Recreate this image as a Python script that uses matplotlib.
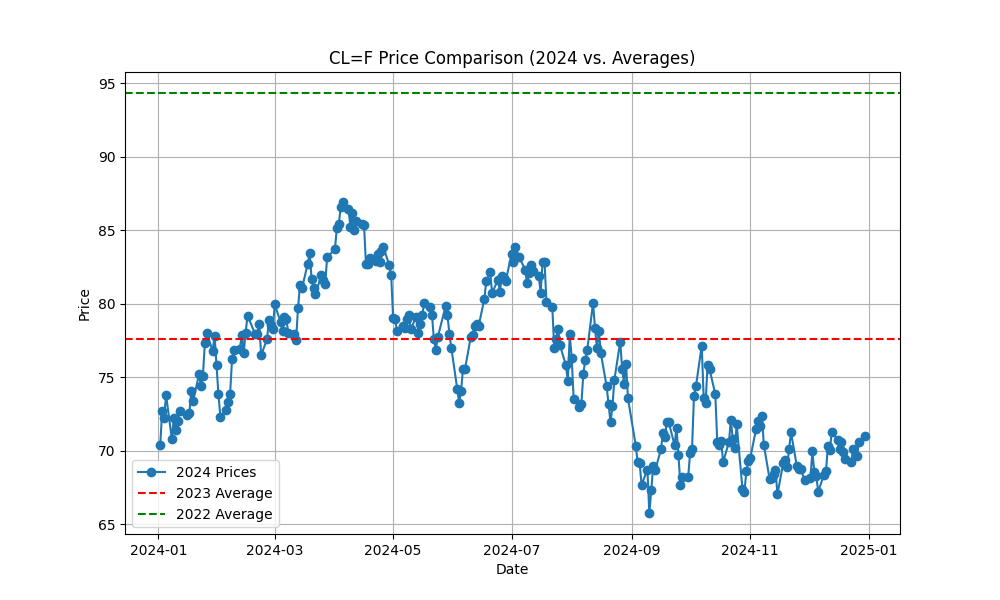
import numpy as np
import pandas as pd
import matplotlib
matplotlib.use('Agg')
import matplotlib.pyplot as plt

# Trading days per month (2024)
days = {
    1: [2, 3, 4, 5, 8, 9, 10, 11, 12, 16, 17, 18, 19, 22, 23, 24, 25, 26, 29, 30, 31],
    2: [1, 2, 5, 6, 7, 8, 9, 12, 13, 14, 15, 16, 20, 21, 22, 23, 26, 27, 28, 29],
    3: [1, 4, 5, 6, 7, 8, 11, 12, 13, 14, 15, 18, 19, 20, 21, 22, 25, 26, 27, 28],
    4: [1, 2, 3, 4, 5, 8, 9, 10, 11, 12, 15, 16, 17, 18, 19, 22, 23, 24, 25, 26, 29, 30],
    5: [1, 2, 3, 6, 7, 8, 9, 10, 13, 14, 15, 16, 17, 20, 21, 22, 23, 24, 28, 29, 30, 31],
    6: [3, 4, 5, 6, 7, 10, 11, 12, 13, 14, 17, 18, 20, 21, 24, 25, 26, 27, 28],
    7: [1, 2, 3, 5, 8, 9, 10, 11, 12, 15, 16, 17, 18, 19, 22, 23, 24, 25, 26, 29, 30, 31],
    8: [1, 2, 5, 6, 7, 8, 9, 12, 13, 14, 15, 16, 19, 20, 21, 22, 23, 26, 27, 28, 29, 30],
    9: [3, 4, 5, 6, 9, 10, 11, 12, 13, 16, 17, 18, 19, 20, 23, 24, 25, 26, 27, 30],
    10: [1, 2, 3, 4, 7, 8, 9, 10, 11, 14, 15, 16, 17, 18, 21, 22, 23, 24, 25, 28, 29, 30, 31],
    11: [1, 4, 5, 6, 7, 8, 11, 12, 13, 14, 15, 18, 19, 20, 21, 22, 25, 26, 27, 29],
    12: [2, 3, 4, 5, 6, 9, 10, 11, 12, 13, 16, 17, 18, 19, 20, 23, 24, 26, 27, 30],
}
dates = pd.to_datetime([f'2024-{m:02d}-{d:02d}' for m in days for d in days[m]])

prices = [
    70.38, 72.70, 72.19, 73.81, 70.77, 72.24, 71.37, 72.02, 72.68, 72.40, 72.56, 74.08, 73.41, 75.19, 74.37, 75.09, 77.36, 78.01, 76.78, 77.82, 75.85,
    73.82, 72.28, 72.78, 73.31, 73.86, 76.22, 76.84, 76.92, 77.87, 76.64, 78.03, 79.19, 77.91, 77.91, 78.61, 76.49, 77.58, 78.87, 78.54, 78.26,
    79.97, 78.74, 78.15, 79.13, 78.93, 78.01, 77.93, 77.56, 79.72, 81.26, 81.04, 82.72, 83.47, 81.68, 81.07, 80.63, 81.95, 81.62, 81.35, 83.17,
    83.71, 85.15, 85.43, 86.59, 86.91, 86.43, 85.23, 86.21, 85.02, 85.66, 85.41, 85.36, 82.69, 82.73, 83.14, 82.90, 83.36, 82.81, 83.57, 83.85, 82.63, 81.93,
    79.00, 78.95, 78.11, 78.48, 78.38, 78.99, 79.26, 78.26, 79.12, 78.02, 78.63, 79.23, 80.06, 79.80, 79.26, 77.57, 76.87, 77.72, 79.83, 79.23, 77.91, 76.99,
    74.22, 73.25, 74.07, 75.55, 75.53, 77.74, 77.90, 78.50, 78.62, 78.45, 80.33, 81.57, 82.17, 80.73, 81.63, 80.83, 81.90, 81.74, 81.54,
    83.38, 82.81, 83.88, 83.16, 82.33, 81.41, 82.10, 82.62, 82.21, 81.91, 80.76, 82.85, 82.82, 80.13, 79.78, 76.96, 77.59, 78.28, 77.16, 75.81, 74.73, 77.91,
    76.31, 73.52, 72.94, 73.20, 75.23, 76.19, 76.84, 80.06, 78.35, 76.98, 78.16, 76.65, 74.37, 73.17, 71.93, 73.01, 74.83, 77.42, 75.53, 74.52, 75.91, 73.55,
    70.34, 69.20, 69.15, 67.67, 68.71, 65.75, 67.31, 68.97, 68.65, 70.09, 71.19, 70.91, 71.95, 71.92, 70.37, 71.56, 69.69, 67.67, 68.18, 68.17,
    69.83, 70.10, 73.71, 74.38, 77.14, 73.57, 73.24, 75.85, 75.56, 73.83, 70.58, 70.39, 70.67, 69.22, 70.56, 72.09, 70.77, 70.19, 71.78, 67.38, 67.21, 68.61, 69.26,
    69.49, 71.47, 71.99, 71.69, 72.36, 70.38, 68.04, 68.12, 68.43, 68.70, 67.02, 69.16, 69.39, 68.87, 70.10, 71.24, 68.94, 68.77, 68.72, 68.00,
    68.10, 69.94, 68.54, 68.30, 67.20, 68.37, 68.59, 70.29, 70.02, 71.29, 70.71, 70.08, 70.58, 69.91, 69.46, 69.24, 70.10, 69.62, 70.60, 70.99,
]
avg_2023 = 77.6
avg_2022 = 94.35

fig, ax = plt.subplots(figsize=(10, 6), dpi=100)
ax.plot(dates, prices, marker='o', label='2024 Prices')
ax.axhline(avg_2023, color='red', linestyle='--', label='2023 Average')
ax.axhline(avg_2022, color='green', linestyle='--', label='2022 Average')
ax.set_title('CL=F Price Comparison (2024 vs. Averages)')
ax.set_xlabel('Date')
ax.set_ylabel('Price')
ax.grid(True)
ax.legend(loc='lower left')

fig.savefig('out.png')
